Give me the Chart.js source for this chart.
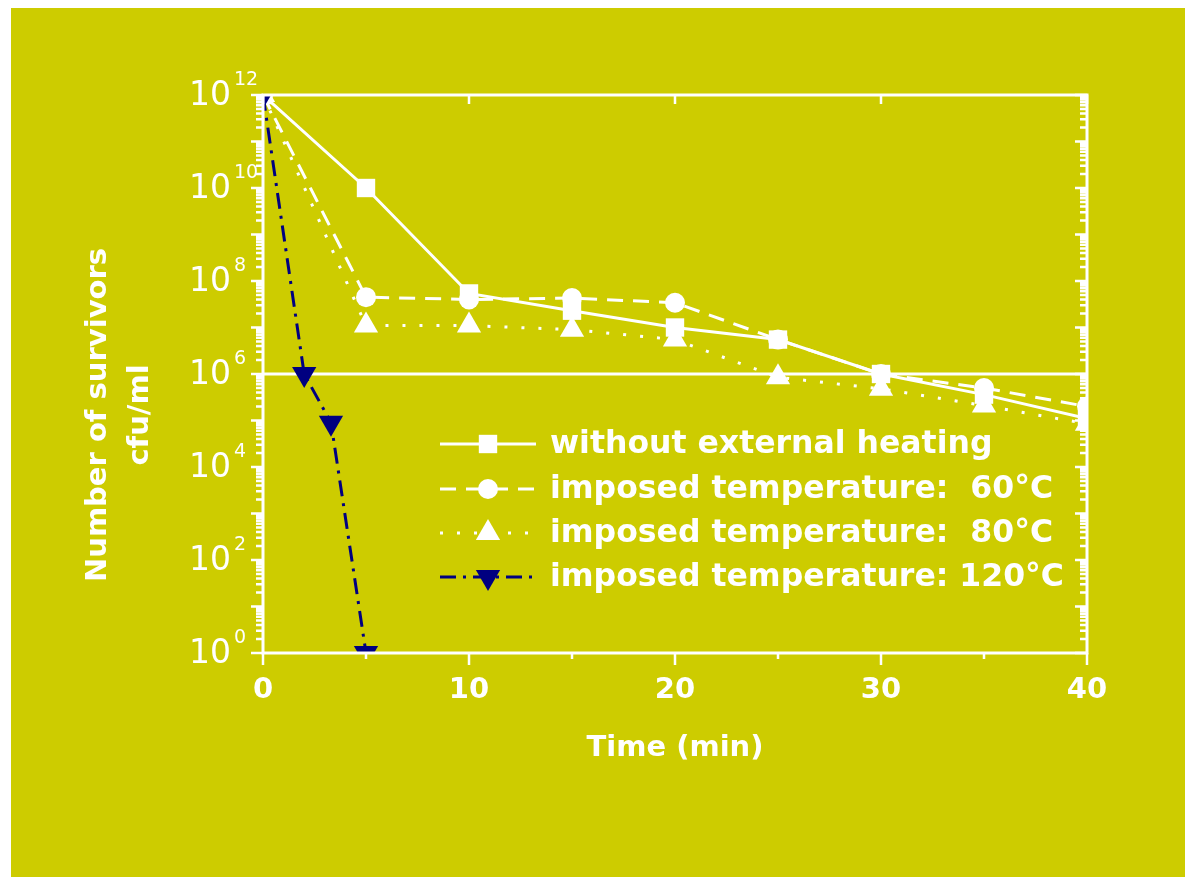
<!DOCTYPE html>
<html>
<head>
<meta charset="utf-8">
<script src="https://cdn.jsdelivr.net/npm/chart.js@4.4.0/dist/chart.umd.min.js"></script>
<style>
  html, body { margin: 0; padding: 0; background: #fff; overflow: hidden; }
  #wrap { width: 1185px; height: 877px; }
</style>
</head>
<body>
<div id="wrap"><canvas id="chart"></canvas></div>
<script>
"use strict";

// data (cfu/ml vs time in min)
const times = [0, 5, 10, 15, 20, 25, 30, 35, 40];
const noHeating = [1e12, 1e10, 5.4e7, 2.3e7, 1e7, 5.5e6, 1e6, 3.6e5, 1.1e5];
const temp60 = [1e12, 4.5e7, 4e7, 4.3e7, 3.4e7, 5.5e6, 1e6, 5e5, 2e5];
const temp80 = [1e12, 1.1e7, 1.1e7, 9e6, 5.5e6, 8.5e5, 4.8e5, 2.1e5, 8.5e4];
const times120 = [0, 2, 3.3, 5];
const temp120 = [1e12, 1e6, 9e4, 1];
const seriesLabels = [
  "without external heating",
  "imposed temperature:  60\u00B0C",
  "imposed temperature:  80\u00B0C",
  "imposed temperature: 120\u00B0C"
];
const xTicks = [0, 10, 20, 30, 40];
const yTickExps = [0, 2, 4, 6, 8, 10, 12];
const refLine = 1e6;

const BG = "#cdcc00";
const WHITE = "#ffffff";
const NAVY = "#000080";

function pts(xs, ys) {
  return xs.map((x, i) => ({ x: x, y: ys[i] }));
}

const datasets = [
  {
    label: seriesLabels[0], data: pts(times, noHeating),
    borderColor: WHITE, backgroundColor: WHITE, borderWidth: 3,
    pointStyle: "rect", pointRadius: 13, borderDash: [], order: 3
  },
  {
    label: seriesLabels[1], data: pts(times, temp60),
    borderColor: WHITE, backgroundColor: WHITE, borderWidth: 3,
    pointStyle: "circle", pointRadius: 10, borderDash: [16, 10], order: 2
  },
  {
    label: seriesLabels[2], data: pts(times, temp80),
    borderColor: WHITE, backgroundColor: WHITE, borderWidth: 3,
    pointStyle: "triangle", pointRadius: 14, borderDash: [3, 14], order: 1
  },
  {
    label: seriesLabels[3], data: pts(times120, temp120),
    borderColor: NAVY, backgroundColor: NAVY, borderWidth: 3,
    pointStyle: "triangle", pointRotation: 180, pointRadius: 14,
    borderDash: [16, 7, 3, 7], order: 0
  }
];

datasets.forEach(d => {
  d.pointBackgroundColor = d.backgroundColor;
  d.pointBorderWidth = 0;
  d.pointBorderColor = d.backgroundColor;
  d.tension = 0;
  d.clip = 0;
});

// frame, ticks, labels, legend
const decor = {
  id: "decor",
  beforeDraw(chart) {
    const ctx = chart.ctx;
    ctx.save();
    ctx.fillStyle = "#ffffff";
    ctx.fillRect(0, 0, chart.width, chart.height);
    ctx.fillStyle = BG;
    ctx.fillRect(11, 8, chart.width - 11, chart.height - 8);
    ctx.restore();
  },
  beforeDatasetsDraw(chart) {
    const ctx = chart.ctx, a = chart.chartArea;
    const y = chart.scales.y.getPixelForValue(refLine);
    ctx.save();
    ctx.strokeStyle = WHITE;
    ctx.lineWidth = 3;
    ctx.beginPath();
    ctx.moveTo(a.left, y);
    ctx.lineTo(a.right, y);
    ctx.stroke();
    ctx.restore();
  },
  afterDraw(chart) {
    const ctx = chart.ctx, a = chart.chartArea;
    const xs = chart.scales.x, ys = chart.scales.y;
    ctx.save();
    ctx.strokeStyle = WHITE;
    ctx.fillStyle = WHITE;
    ctx.lineWidth = 3;
    ctx.strokeRect(a.left, a.top, a.right - a.left, a.bottom - a.top);

    // y ticks (left outward, right inward)
    ctx.lineWidth = 2.5;
    ctx.beginPath();
    for (let e = 0; e <= 12; e++) {
      const py = ys.getPixelForValue(Math.pow(10, e));
      ctx.moveTo(a.left - 12, py); ctx.lineTo(a.left, py);
      ctx.moveTo(a.right, py); ctx.lineTo(a.right - 12, py);
      if (e < 12) {
        for (let m = 2; m <= 9; m++) {
          const my = ys.getPixelForValue(m * Math.pow(10, e));
          ctx.moveTo(a.left - 7, my); ctx.lineTo(a.left, my);
          ctx.moveTo(a.right, my); ctx.lineTo(a.right - 7, my);
        }
      }
    }
    // x ticks (bottom outward, top inward at majors only)
    for (let t = 0; t <= 40; t += 5) {
      const px = xs.getPixelForValue(t);
      const major = t % 10 === 0;
      ctx.moveTo(px, a.bottom); ctx.lineTo(px, a.bottom + (major ? 12 : 6));
      if (major) { ctx.moveTo(px, a.top); ctx.lineTo(px, a.top + 9); }
    }
    ctx.stroke();

    // y tick labels 10^n
    ctx.textBaseline = "middle";
    yTickExps.forEach(e => {
      const py = ys.getPixelForValue(Math.pow(10, e));
      ctx.font = "33px 'DejaVu Sans'";
      ctx.textAlign = "right";
      ctx.fillText("10", 231, py + 1);
      ctx.font = "19px 'DejaVu Sans'";
      ctx.textAlign = "left";
      ctx.fillText(String(e), 234, py - 15);
    });

    // x tick labels
    ctx.font = "bold 29px 'DejaVu Sans'";
    ctx.textAlign = "center";
    xTicks.forEach(t => {
      ctx.fillText(String(t), xs.getPixelForValue(t), 690);
    });

    // axis titles
    ctx.font = "bold 29px 'DejaVu Sans'";
    ctx.fillText("Time (min)", 675, 748);
    ctx.save();
    ctx.translate(98, 415);
    ctx.rotate(-Math.PI / 2);
    ctx.fillText("Number of survivors", 0, 0);
    ctx.fillText("cfu/ml", 0, 42);
    ctx.restore();

    // legend
    const rows = [444, 489, 533, 577];
    chart.data.datasets.forEach((d, i) => {
      const ry = rows[i];
      ctx.save();
      ctx.strokeStyle = d.borderColor;
      ctx.lineWidth = 3;
      ctx.setLineDash(d.borderDash);
      ctx.beginPath();
      ctx.moveTo(440, ry);
      ctx.lineTo(536, ry);
      ctx.stroke();
      ctx.restore();
      ctx.fillStyle = d.backgroundColor;
      Chart.helpers.drawPoint(ctx, {
        pointStyle: d.pointStyle,
        radius: d.pointRadius,
        rotation: d.pointRotation || 0,
        borderWidth: 0
      }, 488, ry);
      ctx.fillStyle = WHITE;
      ctx.font = "bold 31.5px 'DejaVu Sans'";
      ctx.textAlign = "left";
      ctx.fillText(d.label, 550, ry + 1);
    });
    ctx.restore();
  }
};

new Chart(document.getElementById("chart"), {
  type: "line",
  data: { datasets: datasets },
  options: {
    responsive: true,
    maintainAspectRatio: false,
    animation: false,
    events: [],
    layout: { padding: { left: 263, right: 98, top: 95, bottom: 224 } },
    plugins: { legend: { display: false }, tooltip: { enabled: false } },
    scales: {
      x: { type: "linear", min: 0, max: 40, display: false },
      y: { type: "logarithmic", min: 1, max: 1e12, display: false }
    }
  },
  plugins: [decor]
});
</script>
</body>
</html>
